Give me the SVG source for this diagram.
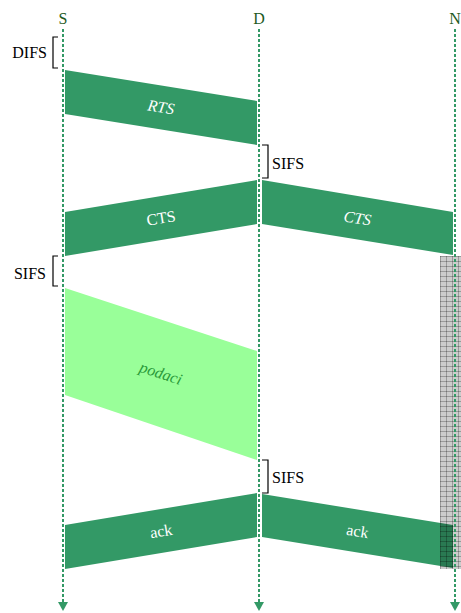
<svg xmlns="http://www.w3.org/2000/svg" width="461" height="613" viewBox="0 0 461 613" font-family="Liberation Serif, DejaVu Serif, Times New Roman, serif" font-size="16">
  <style>
    .lbl { fill: #1e5a1e; text-anchor: middle; }
    .gap { fill: #000; }
    .frame { fill: #339966; }
    .data { fill: #99ff99; }
    .ftxt { fill: #ffffff; text-anchor: middle; dominant-baseline: central; }
    .dtxt { fill: #2a9a3a; text-anchor: middle; dominant-baseline: central; font-style: italic; }
    .it { font-style: italic; }
    .bracket { fill: none; stroke: #000; stroke-width: 1.2; }
    .life { stroke: #339966; stroke-width: 2; stroke-dasharray: 3 2; fill: none; }
  </style>
  <defs>
    <marker id="arrow" viewBox="0 0 9 10" refX="0" refY="5" markerWidth="9" markerHeight="10" markerUnits="userSpaceOnUse" orient="auto">
      <path d="M0,0 L9,5 L0,10 Z" fill="#339966"/>
    </marker>
    <pattern id="grid" width="6" height="5" patternUnits="userSpaceOnUse" x="440" y="256">
      <rect width="6" height="5" fill="rgba(0,0,0,0.2)"/>
      <path d="M0,0.5 H6 M0.5,0 V5" stroke="rgba(0,0,0,0.25)" stroke-width="1"/>
    </pattern>
  </defs>

  <!-- station labels -->
  <g id="station-S"><text class="lbl" x="63" y="24">S</text></g>
  <g id="station-D"><text class="lbl" x="259" y="24">D</text></g>
  <g id="station-N"><text class="lbl" x="455" y="24">N</text></g>

  <!-- frames -->
  <g id="rts">
    <polygon class="frame" points="65,70 257,101 257,145 65,114"/>
    <text class="ftxt it" transform="translate(161,107) rotate(9.2)">RTS</text>
  </g>
  <g id="cts-s">
    <polygon class="frame" points="65,212 257,180 257,224 65,256"/>
    <text class="ftxt" transform="translate(161,218) rotate(-9.3)">CTS</text>
  </g>
  <g id="cts-n">
    <polygon class="frame" points="262,180 453,212 453,255 262,224"/>
    <text class="ftxt it" transform="translate(357.5,218) rotate(9.4)">CTS</text>
  </g>
  <g id="podaci">
    <polygon class="data" points="65,288 257,351 257,460 65,395"/>
    <text class="dtxt" transform="translate(161,373) rotate(18.2)">podaci</text>
  </g>
  <g id="ack-s">
    <polygon class="frame" points="65,525 257,493 257,537 65,569"/>
    <text class="ftxt" transform="translate(161,531) rotate(-9.3)">ack</text>
  </g>
  <g id="ack-n">
    <polygon class="frame" points="262,494 453,525 453,568 262,537"/>
    <text class="ftxt" transform="translate(357.5,531) rotate(9.3)">ack</text>
  </g>

  <!-- NAV interval at N -->
  <g id="nav">
    <rect x="440" y="256" width="21" height="313" fill="url(#grid)"/>
  </g>

  <!-- inter-frame spaces -->
  <g id="difs">
    <path class="bracket" d="M58,37 H53 V68 H58"/>
    <text class="gap" x="47" y="58" text-anchor="end">DIFS</text>
  </g>
  <g id="sifs-s">
    <path class="bracket" d="M58,256 H53 V286 H58"/>
    <text class="gap" x="46" y="279" text-anchor="end">SIFS</text>
  </g>
  <g id="sifs-d1">
    <path class="bracket" d="M262,145 H268 V178 H262"/>
    <text class="gap" x="272" y="169">SIFS</text>
  </g>
  <g id="sifs-d2">
    <path class="bracket" d="M262,460 H268 V493 H262"/>
    <text class="gap" x="272" y="483">SIFS</text>
  </g>

  <!-- time axes -->
  <g id="connectors">
    <line class="life" x1="63" y1="29" x2="63" y2="602" marker-end="url(#arrow)"/>
    <line class="life" x1="259" y1="29" x2="259" y2="602" marker-end="url(#arrow)"/>
    <line class="life" x1="455" y1="29" x2="455" y2="602" marker-end="url(#arrow)"/>
  </g>
</svg>
